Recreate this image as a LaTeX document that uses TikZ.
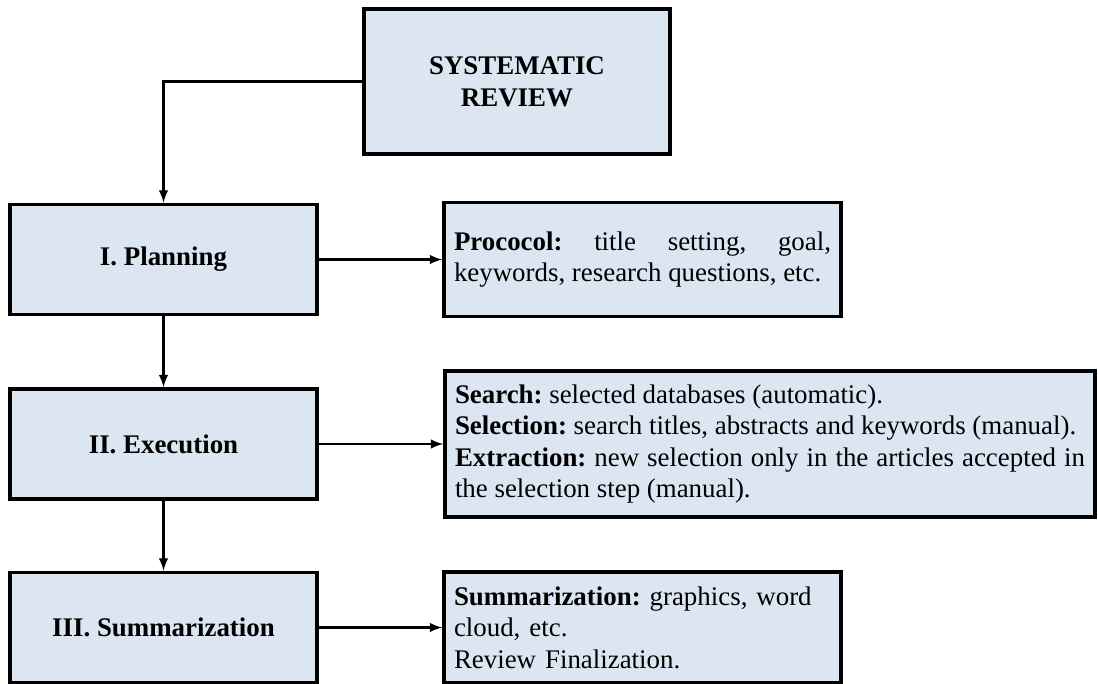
\documentclass[tikz,border=0pt]{standalone}
\usepackage{fontspec}
\setmainfont{Liberation Serif}
\usepackage{tikz}
\usepackage{xcolor}
\usetikzlibrary{shapes.geometric, arrows, positioning, calc}
\definecolor{boxblue}{RGB}{220,230,242}
\frenchspacing

\begin{document}
\begin{tikzpicture}[
    phase/.style={draw, line width=2pt, fill=boxblue, minimum width=6.14cm, minimum height=2.2cm, font=\fontsize{15.3}{18}\selectfont\bfseries},
    info/.style={draw, line width=2pt, fill=boxblue, align=justify, inner xsep=0.2cm, font=\fontsize{15.3}{18}\selectfont},
    arr/.style={-latex, line width=1.4pt}
]
\useasboundingbox (0,0) rectangle (21.96,13.68);

% Main phases
\node[phase, minimum width=6.12cm, minimum height=2.9cm, align=center] (review) at (10.34,12.05) {SYSTEMATIC\\REVIEW};
\node[phase] (planning) at (3.27,8.49) {I. Planning};
\node[phase] (execution) at (3.27,4.8) {II. Execution};
\node[phase] (summarization) at (3.27,1.13) {III. Summarization};

% Details of each phase
\node[info, text width=7.54cm, minimum height=2.28cm] (protocol) at (12.85,8.49) {\textbf{Prococol:} title setting, goal,\linebreak \mbox{keywords, research questions, etc.}};
\node[info, text width=12.6cm, minimum height=2.92cm] (steps) at (15.4,4.8) {\textbf{Search:} selected databases (automatic).\\ \textbf{Selection:} search titles, abstracts and keywords (manual).\\ \textbf{Extraction:} new selection only in the articles accepted in\linebreak the selection step (manual).};
\node[info, text width=7.54cm, minimum height=2.22cm, align=left] (final) at (12.85,1.13) {\textbf{Summarization:} graphics, word\\cloud, etc.\\Review Finalization.};

% Connectors
\draw[arr] (review.west) -| (planning.north);
\draw[arr] (planning.south) -- (execution.north);
\draw[arr] (execution.south) -- (summarization.north);
\draw[arr] (planning.east) -- (protocol.west);
\draw[arr] (execution.east) -- (steps.west);
\draw[arr] (summarization.east) -- (final.west);
\end{tikzpicture}
\end{document}
